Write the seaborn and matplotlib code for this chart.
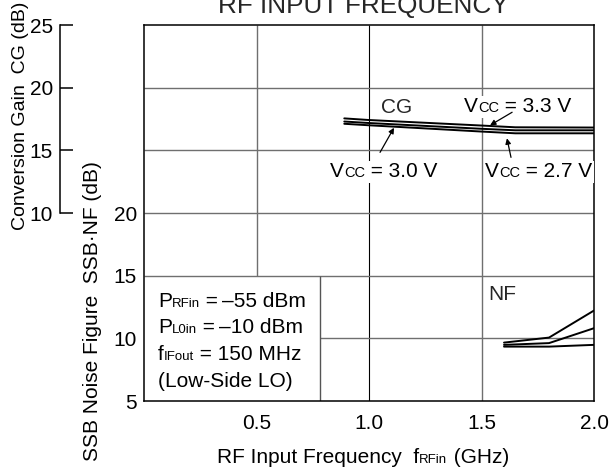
import numpy as np
import pandas as pd
import matplotlib
matplotlib.use("Agg")
import matplotlib.pyplot as plt
import seaborn as sns
from matplotlib.offsetbox import TextArea, HPacker, VPacker, AnnotationBbox, AnchoredOffsetbox

# ---- data -------------------------------------------------------------
vcc_levels = ["3.3 V", "3.0 V", "2.7 V"]

cg_freq = [0.89, 1.0, 1.5, 1.65, 2.0]
cg_33 = [17.55, 17.42, 16.98, 16.84, 16.82]
cg_30 = [17.30, 17.18, 16.72, 16.60, 16.60]
cg_27 = [17.12, 17.00, 16.50, 16.36, 16.36]

nf_freq = [1.6, 1.8, 2.0]
nf_33 = [9.34, 9.34, 9.48]
nf_30 = [9.48, 9.62, 10.81]
nf_27 = [9.66, 10.06, 12.22]

x_ticks = [0.5, 1.0, 1.5, 2.0]
x_tick_labels = ["0.5", "1.0", "1.5", "2.0"]
nf_ticks = [5, 10, 15, 20]
cg_ticks = [10, 15, 20, 25]

cg_df = pd.DataFrame({
    "freq": cg_freq * 3,
    "cg": cg_33 + cg_30 + cg_27,
    "vcc": np.repeat(vcc_levels, len(cg_freq)),
})
nf_df = pd.DataFrame({
    "freq": nf_freq * 3,
    "nf": nf_33 + nf_30 + nf_27,
    "vcc": np.repeat(vcc_levels, len(nf_freq)),
})

# ---- style ------------------------------------------------------------
sns.set_theme(style="white")
plt.rcParams["font.family"] = ["Liberation Sans", "DejaVu Sans"]
FS = 15
SUB = 9.5
GRID = "#6f6f6f"

fig = plt.figure(figsize=(6.1, 4.73), dpi=100)
ax = fig.add_axes([0.2361, 0.1522, 0.7377, 0.7949])
ax2 = ax.twinx()

# Noise figure scale (inner axis)
ax.set_xlim(0, 2.0)
ax.set_ylim(5, 35)
ax.set_xticks(x_ticks)
ax.set_xticklabels(x_tick_labels)
ax.set_yticks(nf_ticks)
ax.tick_params(axis="both", length=0, labelsize=FS, colors="black")
ax.tick_params(axis="x", pad=9)
ax.tick_params(axis="y", pad=5)
for s in ax.spines.values():
    s.set_color("black")
    s.set_linewidth(1.1)

# Conversion gain scale (outer axis)
ax2.set_ylim(-5, 25)
ax2.set_yticks(cg_ticks)
ax2.yaxis.tick_left()
ax2.yaxis.set_label_position("left")
for name in ["right", "top", "bottom"]:
    ax2.spines[name].set_visible(False)
ax2.spines["left"].set_position(("outward", 60.5))
ax2.spines["left"].set_bounds(cg_ticks[0], cg_ticks[-1])
ax2.spines["left"].set_color("black")
ax2.spines["left"].set_linewidth(1.1)
ax2.tick_params(axis="y", direction="in", length=9.4, width=1.1,
                pad=5, labelsize=FS, colors="black")

# ---- grid and condition box ------------------------------------------
box_edge = 0.78
ax.vlines(0.5, 15, 35, color=GRID, lw=1.0, zorder=1)
ax.vlines(1.0, 5, 35, color="black", lw=0.8, zorder=1)
ax.vlines(1.5, 5, 35, color=GRID, lw=1.0, zorder=1)
ax.hlines([15, 20, 25, 30], 0, 2.0, color=GRID, lw=1.0, zorder=1)
ax.hlines(10, box_edge, 2.0, color=GRID, lw=1.0, zorder=1)
ax.vlines(box_edge, 5, 15, color="#555555", lw=1.0, zorder=1)

# ---- curves -----------------------------------------------------------
pal = dict(zip(vcc_levels, ["black"] * 3))
sns.lineplot(data=cg_df, x="freq", y="cg", hue="vcc", palette=pal,
             estimator=None, legend=False, ax=ax2, lw=1.4, zorder=3)
sns.lineplot(data=nf_df, x="freq", y="nf", hue="vcc", palette=pal,
             estimator=None, legend=False, ax=ax, lw=1.4, zorder=3)
ax2.set_xlabel("")
ax.set_xlabel("")


def rich(parts):
    """Row of text pieces sharing one baseline; parts = [(text, size)]."""
    return HPacker(children=[TextArea(t, textprops=dict(fontsize=s, color="black"))
                             for t, s in parts],
                   align="baseline", pad=0, sep=0)


def place(axis, parts, xy, white=False):
    ab = AnnotationBbox(rich(parts), xy, xycoords="data", box_alignment=(0, 0),
                        frameon=white, pad=0.1,
                        bboxprops=dict(facecolor="white", edgecolor="none"))
    ab.set_zorder(4)
    axis.add_artist(ab)


# curve labels
ax2.text(1.053, 17.96, "CG", fontsize=FS, va="baseline", zorder=5)
ax.text(1.529, 13.08, "NF", fontsize=FS, va="baseline", zorder=5)

place(ax2, [("V", FS), ("CC", SUB + 1), (" = 3.3 V", FS)], (1.422, 17.72), white=True)
place(ax2, [("V", FS), ("CC", SUB + 1), (" = 3.0 V", FS)], (0.827, 12.52), white=True)
place(ax2, [("V", FS), ("CC", SUB + 1), (" = 2.7 V", FS)], (1.516, 12.52), white=True)

arrow = dict(arrowstyle="-|>", color="black", lw=0.9, mutation_scale=8,
             shrinkA=0, shrinkB=0)
ax2.annotate("", xy=(1.538, 17.0), xytext=(1.636, 18.04), arrowprops=arrow, zorder=5)
ax2.annotate("", xy=(1.111, 16.8), xytext=(1.049, 14.84), arrowprops=arrow, zorder=5)
ax2.annotate("", xy=(1.613, 15.96), xytext=(1.631, 14.44), arrowprops=arrow, zorder=5)

# measurement conditions
cond = VPacker(children=[
    rich([("P", FS), ("RFin", SUB), (" =\u2009\u201355 dBm", FS)]),
    rich([("P", FS), ("L0in", SUB), (" =\u2009\u201310 dBm", FS)]),
    rich([("f", FS), ("IFout", SUB), (" = 150 MHz", FS)]),
    rich([("(Low-Side LO)", FS)]),
], align="left", pad=0, sep=5.5)
ax.add_artist(AnchoredOffsetbox(loc="upper left", child=cond, pad=0, borderpad=0,
                                frameon=False, bbox_to_anchor=(0.031, 0.291),
                                bbox_transform=ax.transAxes))

# axis titles (label coordinates set after the text, which resets them)
ax2.set_ylabel("Conversion Gain  CG (dB)", fontsize=14, color="black")
ax2.yaxis.set_label_coords(-0.255, 0.758)
ax.set_ylabel("SSB Noise Figure  SSB\u00b7NF (dB)", fontsize=FS, color="black")
ax.yaxis.set_label_coords(-0.093, 0.238)

xl = rich([("RF Input Frequency  f", FS), ("RFin", SUB), (" (GHz)", FS)])
fig.add_artist(AnnotationBbox(xl, (363, 6), xycoords="figure pixels",
                              box_alignment=(0.5, 0), frameon=False))

fig.text(363 / 610, 1 - 13.5 / 473, "RF INPUT FREQUENCY", fontsize=18.8,
         ha="center", va="baseline")

fig.savefig("out.png", dpi=100)
